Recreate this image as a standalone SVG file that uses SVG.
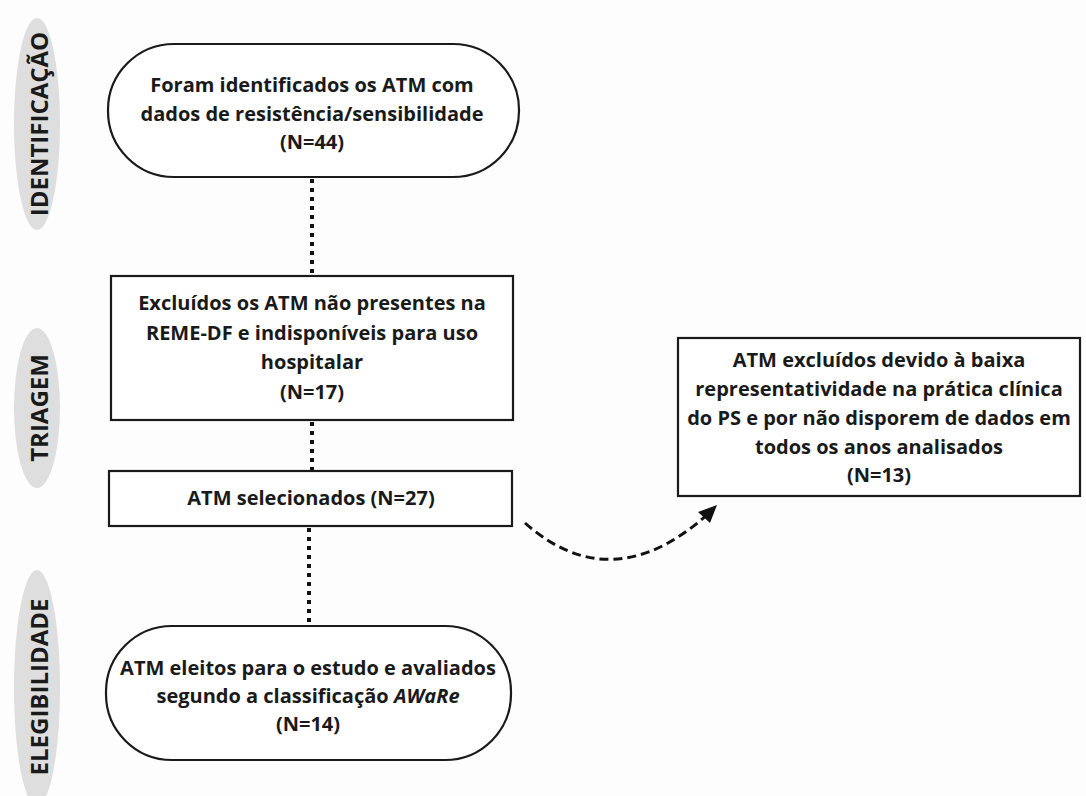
<svg xmlns="http://www.w3.org/2000/svg" width="1086" height="796" viewBox="0 0 1086 796">
<style>
.t{font-family:"Open Sans","Noto Sans","DejaVu Sans",sans-serif;font-weight:700;font-size:20px;fill:#1a1a1a;text-anchor:middle}
.lab{font-family:"Open Sans","Noto Sans","DejaVu Sans",sans-serif;font-weight:700;font-size:24px;fill:#1a1a1a;text-anchor:middle;dominant-baseline:central}
.node{fill:#fff;stroke:#1a1a1a;stroke-width:2.2}
.pill{fill:#dedede}
.dot{fill:none;stroke:#111;stroke-width:4;stroke-dasharray:4 5}
.dash{fill:none;stroke:#111;stroke-width:3;stroke-dasharray:9 5}
</style>
<rect width="1086" height="796" fill="#fdfdfd"/>
<g id="label-identificacao">
<ellipse class="pill" cx="37" cy="124" rx="23" ry="106"/>
<text class="lab" transform="translate(38,124) rotate(-90)">IDENTIFICAÇÃO</text>
</g>
<g id="label-triagem">
<ellipse class="pill" cx="37" cy="408" rx="23" ry="80"/>
<text class="lab" transform="translate(38,408) rotate(-90)">TRIAGEM</text>
</g>
<g id="label-elegibilidade">
<ellipse class="pill" cx="37" cy="688" rx="23" ry="118"/>
<text class="lab" transform="translate(38,687) rotate(-90)">ELEGIBILIDADE</text>
</g>
<g id="connectors">
<line class="dot" x1="312" y1="179" x2="312" y2="275"/>
<line class="dot" x1="312" y1="422" x2="312" y2="470"/>
<line class="dot" x1="309" y1="528" x2="309" y2="625"/>
<path class="dash" d="M525,523 Q612,600 708,514"/>
<path d="M717,505 L698,512 L710,523 Z" fill="#111"/>
</g>
<g id="n1">
<rect class="node" x="108" y="44" width="411" height="133" rx="66" ry="66"/>
<text class="t" x="312" y="92">Foram identificados os ATM com</text>
<text class="t" x="312" y="121">dados de resistência/sensibilidade</text>
<text class="t" x="312" y="149">(N=44)</text>
</g>
<g id="n2">
<rect class="node" x="111" y="276" width="402" height="144"/>
<text class="t" x="312" y="310">Excluídos os ATM não presentes na</text>
<text class="t" x="312" y="340">REME-DF e indisponíveis para uso</text>
<text class="t" x="312" y="369">hospitalar</text>
<text class="t" x="312" y="399">(N=17)</text>
</g>
<g id="n3">
<rect class="node" x="109" y="471" width="403" height="55"/>
<text class="t" x="311" y="505">ATM selecionados (N=27)</text>
</g>
<g id="n4">
<rect class="node" x="106" y="626" width="405" height="134" rx="66" ry="66"/>
<text class="t" x="308" y="675">ATM eleitos para o estudo e avaliados</text>
<text class="t" x="308" y="703">segundo a classificação <tspan font-style="italic">AWaRe</tspan></text>
<text class="t" x="308" y="731">(N=14)</text>
</g>
<g id="n5">
<rect class="node" x="678" y="338" width="402" height="158"/>
<text class="t" x="879" y="367">ATM excluídos devido à baixa</text>
<text class="t" x="879" y="396">representatividade na prática clínica</text>
<text class="t" x="879" y="425">do PS e por não disporem de dados em</text>
<text class="t" x="879" y="454">todos os anos analisados</text>
<text class="t" x="879" y="482">(N=13)</text>
</g>
</svg>
